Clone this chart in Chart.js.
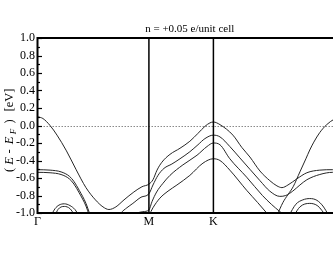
<!DOCTYPE html>
<html><head><meta charset="utf-8">
<script src="https://cdn.jsdelivr.net/npm/chart.js@4.4.1/dist/chart.umd.min.js"></script>
<style>
html,body{margin:0;padding:0;overflow:hidden;background:#fff;width:333px;height:258px}
#wrap{position:absolute;left:0;top:0;width:350px;height:258px}
</style>
</head><body><div id="wrap"><canvas id="c" width="350" height="258"></canvas></div>
<script>
// ---- data (k in units of 2π/a along Γ-M-K-Γ, E - E_F in eV) ----
const titleText = 'n = +0.05 e/unit cell';
const kTickPos = [0, 0.577, 0.911, 1.577];
const kTickLabels = ['Γ', 'M', 'K', 'Γ'];
const eMin = -1.0, eMax = 1.0, eStep = 0.2;

const band1K = [0,0.028,0.065,0.101,0.150,0.199,0.251,0.300,0.339,0.370,0.406,0.448,0.499,0.541,0.577,0.598,0.619,0.644,0.686,0.738,0.789,0.831,0.867,0.893,0.911,0.945,1.012,1.058,1.100,1.152,1.203,1.240,1.266,1.297,1.343,1.395,1.462,1.529,1.577];
const band1E = [0.10,0.08,0.00,-0.11,-0.29,-0.50,-0.71,-0.85,-0.93,-0.96,-0.93,-0.85,-0.76,-0.70,-0.67,-0.62,-0.51,-0.42,-0.33,-0.26,-0.18,-0.09,-0.01,0.03,0.04,0.01,-0.11,-0.25,-0.36,-0.52,-0.63,-0.69,-0.71,-0.68,-0.61,-0.54,-0.51,-0.505,-0.505];

const band2K = [0.417,0.432,0.463,0.494,0.536,0.577,0.598,0.624,0.655,0.696,0.738,0.789,0.831,0.867,0.911,0.945,0.996,1.048,1.100,1.152,1.203,1.255,1.286,1.322,1.359,1.395,1.462,1.529,1.577];
const band2E = [-1.05,-1.0,-0.94,-0.89,-0.82,-0.78,-0.68,-0.57,-0.49,-0.44,-0.38,-0.30,-0.22,-0.15,-0.11,-0.13,-0.24,-0.37,-0.50,-0.63,-0.75,-0.81,-0.80,-0.75,-0.68,-0.62,-0.56,-0.535,-0.535];

const band3K = [0.484,0.515,0.546,0.577,0.593,0.617,0.650,0.686,0.753,0.826,0.878,0.911,0.945,0.996,1.083,1.165,1.211,1.253,1.281];
const band3E = [-1.03,-1.0,-0.985,-0.965,-0.87,-0.76,-0.66,-0.57,-0.45,-0.34,-0.24,-0.20,-0.22,-0.38,-0.59,-0.80,-0.90,-0.98,-1.03];

const band4K = [0.577,0.598,0.634,0.676,0.722,0.789,0.857,0.911,0.945,0.996,1.083,1.140,1.191];
const band4E = [-1.03,-0.94,-0.83,-0.75,-0.68,-0.57,-0.43,-0.38,-0.40,-0.51,-0.74,-0.88,-1.01];

const band5K = [1.240,1.271,1.297,1.324,1.359,1.390,1.410,1.431,1.462,1.498,1.535,1.577];
const band5E = [-1.03,-0.88,-0.79,-0.70,-0.53,-0.38,-0.28,-0.19,-0.08,0.01,0.07,0.10];

const band6K = [0,0.065,0.122,0.165,0.189,0.216,0.251,0.272];
const band6E = [-0.505,-0.51,-0.53,-0.58,-0.64,-0.74,-0.89,-1.02];

const band7K = [0,0.065,0.122,0.165,0.189,0.216,0.251,0.267];
const band7E = [-0.535,-0.54,-0.56,-0.61,-0.67,-0.77,-0.92,-1.02];

const arcL1K = [0.070,0.091,0.111,0.139,0.168,0.194,0.215];
const arcL1E = [-1.03,-0.95,-0.91,-0.895,-0.915,-0.96,-1.03];
const arcL2K = [0.091,0.106,0.139,0.168,0.194];
const arcL2E = [-1.03,-0.96,-0.925,-0.95,-1.03];

const arcR1K = [1.302,1.338,1.374,1.410,1.447,1.478,1.509];
const arcR1E = [-1.03,-0.90,-0.85,-0.835,-0.855,-0.92,-1.03];
const arcR2K = [1.328,1.359,1.410,1.452,1.493];
const arcR2E = [-1.03,-0.93,-0.89,-0.92,-1.03];

const bands = [
  [band1K, band1E],[band2K, band2E],[band3K, band3E],[band4K, band4E],
  [band5K, band5E],[band6K, band6E],[band7K, band7E],
  [arcL1K, arcL1E],[arcL2K, arcL2E],[arcR1K, arcR1E],[arcR2K, arcR2E]
];

const FONT = "'Liberation Serif','Times New Roman',serif";

const datasets = bands.map(([k, e]) => ({
  data: k.map((kv, i) => ({x: kv, y: e[i]})),
  borderColor: '#262626',
  borderWidth: 1,
  pointRadius: 0,
  fill: false,
  cubicInterpolationMode: 'monotone'
}));

const decor = {
  id: 'decor',
  beforeDatasetsDraw(chart) {
    const {ctx, chartArea: a, scales: {y}} = chart;
    const y0 = y.getPixelForValue(0);
    ctx.save();
    ctx.strokeStyle = '#8a8a8a';
    ctx.lineWidth = 1;
    ctx.setLineDash([1.5, 1.5]);
    ctx.beginPath();
    ctx.moveTo(a.left, Math.round(y0) + 0.5);
    ctx.lineTo(a.right, Math.round(y0) + 0.5);
    ctx.stroke();
    ctx.restore();
  },
  afterDatasetsDraw(chart) {
    const {ctx, chartArea: a, scales: {x, y}} = chart;
    ctx.save();
    ctx.strokeStyle = '#000';
    ctx.lineWidth = 1.5;
    for (let i = 1; i < kTickPos.length - 1; i++) {
      const px = x.getPixelForValue(kTickPos[i]);
      ctx.beginPath(); ctx.moveTo(px, a.top); ctx.lineTo(px, a.bottom); ctx.stroke();
    }
    ctx.lineWidth = 2;
    ctx.beginPath();
    ctx.moveTo(a.left, a.bottom); ctx.lineTo(a.left, a.top); ctx.lineTo(a.right, a.top);
    ctx.lineTo(a.right, a.bottom); ctx.closePath();
    ctx.stroke();
    ctx.lineWidth = 1.2;
    const n = Math.round((eMax - eMin) / (eStep / 2));
    for (let i = 0; i <= n; i++) {
      const v = eMin + i * eStep / 2;
      const py = Math.round(y.getPixelForValue(v)) + 0.5;
      const len = (i % 2 === 0) ? 4.5 : 2.5;
      ctx.beginPath(); ctx.moveTo(a.left, py); ctx.lineTo(a.left + len, py); ctx.stroke();
    }
    ctx.fillStyle = '#000';
    ctx.font = '11px ' + FONT;
    ctx.textAlign = 'center';
    ctx.textBaseline = 'middle';
    ctx.fillText(titleText, (a.left + a.right) / 2, 29.5);
    ctx.translate(13, 0);
    ctx.rotate(-Math.PI / 2);
    ctx.textBaseline = 'alphabetic';
    const parts = [
      ['(', 170, '12.5px ' + FONT, 0],
      ['E', 161, 'italic 12.5px ' + FONT, 0],
      ['-', 151.5, '12.5px ' + FONT, 0],
      ['E', 140.5, 'italic 12.5px ' + FONT, 0],
      ['F', 131.5, 'italic 9px ' + FONT, 3],
      [')', 121.5, '12.5px ' + FONT, 0],
      ['[eV]', 100, '12.5px ' + FONT, 0]
    ];
    for (const [t, cy, f, dv] of parts) {
      ctx.font = f;
      ctx.fillText(t, -cy, dv);
    }
    ctx.restore();
  }
};

new Chart(document.getElementById('c'), {
  type: 'line',
  data: {datasets},
  options: {
    responsive: false,
    devicePixelRatio: 1,
    animation: false,
    events: [],
    layout: {padding: {left: 0, right: 8, top: 38, bottom: 0}},
    plugins: {legend: {display: false}, tooltip: {enabled: false}, title: {display: false}},
    scales: {
      x: {
        type: 'linear', min: kTickPos[0], max: kTickPos[kTickPos.length - 1],
        afterBuildTicks: s => { s.ticks = kTickPos.map(v => ({value: v})); },
        afterFit: s => { s.height = 45; },
        grid: {display: false, drawTicks: false},
        border: {display: false},
        ticks: {
          autoSkip: false, maxRotation: 0, padding: 2, color: '#000',
          font: {family: FONT, size: 12},
          callback: (v, i) => kTickLabels[i]
        }
      },
      y: {
        min: eMin, max: eMax,
        afterFit: s => { s.width = 37.5; },
        grid: {display: false, drawTicks: false},
        border: {display: false},
        ticks: {
          stepSize: eStep, padding: 2.5, color: '#000',
          font: {family: FONT, size: 12},
          callback: v => (Math.abs(v) < 1e-9 ? 0 : v).toFixed(1)
        }
      }
    }
  },
  plugins: [decor]
});
</script>
</body></html>
